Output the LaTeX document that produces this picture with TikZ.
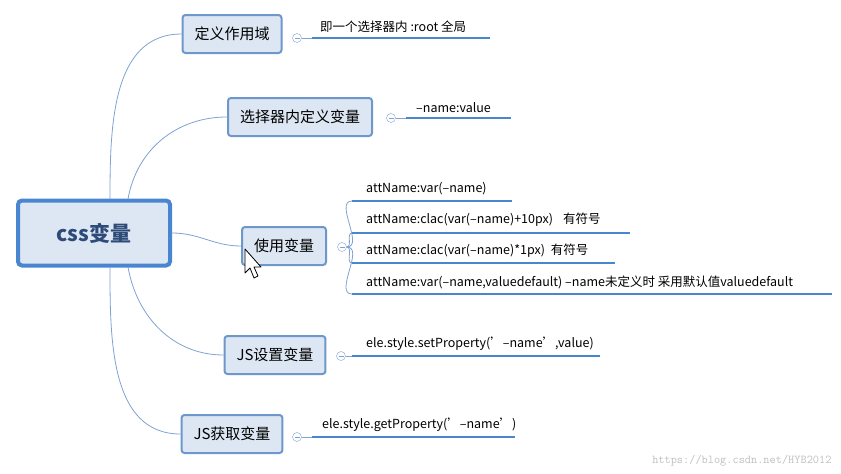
\documentclass[tikz,border=0pt]{standalone}
\usepackage{fontspec}
\setmainfont{Noto Sans CJK SC}
\usetikzlibrary{positioning}
\definecolor{boxfill}{HTML}{DDE7F3}
\definecolor{boxline}{HTML}{6E97CB}
\definecolor{uline}{HTML}{4A86D0}
\definecolor{branch}{HTML}{7FA2D3}
\definecolor{ctext}{HTML}{2E4A78}
\tikzset{
  topic/.style={draw=boxline,line width=2pt,fill=boxfill,rounded corners=3pt,minimum height=38pt,inner xsep=12pt,font=\fontsize{15}{18}\selectfont},
  central/.style={draw=uline,line width=4pt,fill=boxfill,rounded corners=4pt,minimum width=152pt,minimum height=65pt,text=ctext,font=\fontsize{21}{24}\selectfont\bfseries},
  knob/.style={circle,draw=branch,fill=white,inner sep=0pt,minimum size=9pt},
  leaf/.style={anchor=south west,inner sep=2pt,font=\fontsize{12.5}{14}\selectfont},
  link/.style={branch,line width=0.8pt},
  under/.style={uline,line width=2pt}
}
\begin{document}
\begin{tikzpicture}[x=1pt,y=-1pt]
\useasboundingbox (0,0) rectangle (841,474);

% main topic
\node[central] (css) at (94,233) {css变量};

% sub topics
\node[topic] (scope) at (232,34) {定义作用域};
\node[topic] (define) at (300,117) {选择器内定义变量};
\node[topic] (use) at (284,246) {使用变量};
\node[topic] (jsset) at (275,355) {JS设置变量};
\node[topic] (jsget) at (232,434) {JS获取变量};

\draw[link] (110,199) to[out=90,in=180] (scope.west);
\draw[link] (128,199) to[out=80,in=180] (define.west);
\draw[link] (css.east) to[out=0,in=180] (use.west);
\draw[link] (128,267) to[out=-80,in=180] (jsset.west);
\draw[link] (110,267) to[out=-90,in=180] (jsget.west);

% knobs
\node[knob] (k1) at (297,38) {};
\node[knob] (k2) at (391,118) {};
\node[knob] (k3) at (342,247) {};
\node[knob] (k4) at (341,356) {};
\node[knob] (k5) at (297,437) {};
\foreach \k in {k1,k2,k3,k4,k5}
  \draw[branch,line width=0.6pt] ([xshift=-2.5pt]\k.center) -- ([xshift=2.5pt]\k.center);

% leaves
\coordinate (l1) at (312,38);
\coordinate (l2) at (406,118);
\coordinate (u1) at (352,201);
\coordinate (u2) at (352,233);
\coordinate (u3) at (352,263);
\coordinate (u4) at (352,294);
\coordinate (l4) at (352,356);
\coordinate (l5) at (312,437);

\draw[link] (k1.east) -- (l1);
\draw[link] (k2.east) -- (l2);
\draw[link] (k4.east) -- (l4);
\draw[link] (k5.east) -- (l5);
\draw[link] (k3.east) to[out=0,in=180] (u1);
\draw[link] (k3.east) to[out=0,in=180] (u2);
\draw[link] (k3.east) to[out=0,in=180] (u3);
\draw[link] (k3.east) to[out=0,in=180] (u4);

\draw[under] (l1) -- ++(178,0);
\draw[under] (l2) -- ++(105,0);
\draw[under] (u1) -- ++(160,0);
\draw[under] (u2) -- ++(278,0);
\draw[under] (u3) -- ++(263,0);
\draw[under] (u4) -- ++(480,0);
\draw[under] (l4) -- ++(248,0);
\draw[under] (l5) -- ++(203,0);

\node[leaf] (t1) at (318,35) {即一个选择器内 :root 全局};
\node[leaf] (t2) at (414,115) {--name:value};
\node[leaf] (t3) at (364,197) {attName:var(--name)};
\node[leaf] (t4) at (364,229) {attName:clac(var(--name)+10px)\hspace{10pt}有符号};
\node[leaf] (t5) at (364,260) {attName:clac(var(--name)*1px)\hspace{6pt}有符号};
\node[leaf] (t6) at (364,291) {attName:var(--name,valuedefault) --name未定义时 采用默认值valuedefault};
\node[leaf] (t7) at (364,353) {ele.style.setProperty('--name',value)};
\node[leaf] (t8) at (320,434) {ele.style.getProperty('--name')};

% cursor
\draw[black,fill=white,line width=0.8pt,line join=round] (245,249) -- (245,273) -- (250,268) -- (254,278) -- (258,276) -- (254,267) -- (261,267) -- cycle;

% watermark
\node[anchor=south east,text=black!25,font=\fontsize{12}{14}\ttfamily] (wm) at (835,470) {https://blog.csdn.net/HYB2012};
\end{tikzpicture}
\end{document}
